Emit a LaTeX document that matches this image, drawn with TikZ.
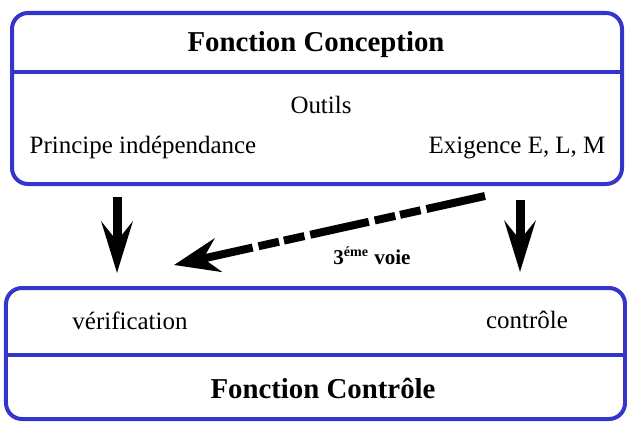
\documentclass[tikz,border=0pt]{standalone}
\usepackage{fontspec}
\setmainfont{Liberation Serif}
\usetikzlibrary{arrows.meta}
\definecolor{cadrebleu}{RGB}{53,53,204}

\begin{document}
\begin{tikzpicture}[
        cadre/.style={draw=cadrebleu,line width=0.08cm,rounded corners=0.32cm},
        titre/.style={font=\fontsize{16.4}{19}\selectfont\bfseries},
        texte/.style={font=\fontsize{14.2}{17}\selectfont},
        fleche/.style={line width=0.18cm,-{Stealth[length=1.02cm,width=0.62cm,inset=0.38cm]}}
    ]
            \useasboundingbox (0,0) rectangle (12.54,8.42);

            % bloc du haut
            \draw[cadre] (0.24,4.74) rectangle (12.44,8.16);
            \draw[cadre] (0.24,6.98) -- (12.44,6.98);
            \node[titre] (conception) at (6.32,7.52) { Fonction Conception };
            \node[texte] (outils) at (6.42,6.32) { Outils };
            \node[texte] (principe) at (2.86,5.48) { Principe indépendance };
            \node[texte] (exigence) at (10.34,5.46) { Exigence E, L, M };

            % bloc du bas
            \draw[cadre] (0.12,0.04) rectangle (12.50,2.66);
            \draw[cadre] (0.12,1.32) -- (12.50,1.32);
            \node[texte] (verification) at (2.6,2.0) { vérification };
            \node[texte] (controle) at (10.54,2.02) { contrôle };
            \node[titre] (fcontrole) at (6.46,0.66) { Fonction Contrôle };

            \coordinate (A) at (2.34,4.48);
            \coordinate (B) at (2.34,2.96);
            \coordinate (C) at (10.4,4.42);
            \coordinate (D) at (10.4,2.98);
            \coordinate (E) at (9.70,4.50);
            \coordinate (F) at (3.48,3.12);

            \draw[fleche] (A) -- (B);
            \draw[fleche] (C) -- (D);
            \draw[line width=0.16cm,dash pattern=on 1.2cm off 0.12cm on 0.42cm off 0.1cm on 0.42cm off 0.12cm,
                -{Stealth[length=0.9cm,width=0.68cm,inset=0.3cm]}] (E) -- (F);
            \node[font=\fontsize{12}{14}\selectfont\bfseries] (voie) at (7.44,3.3) { 3\textsuperscript{éme} voie };
        \end{tikzpicture}
\end{document}
